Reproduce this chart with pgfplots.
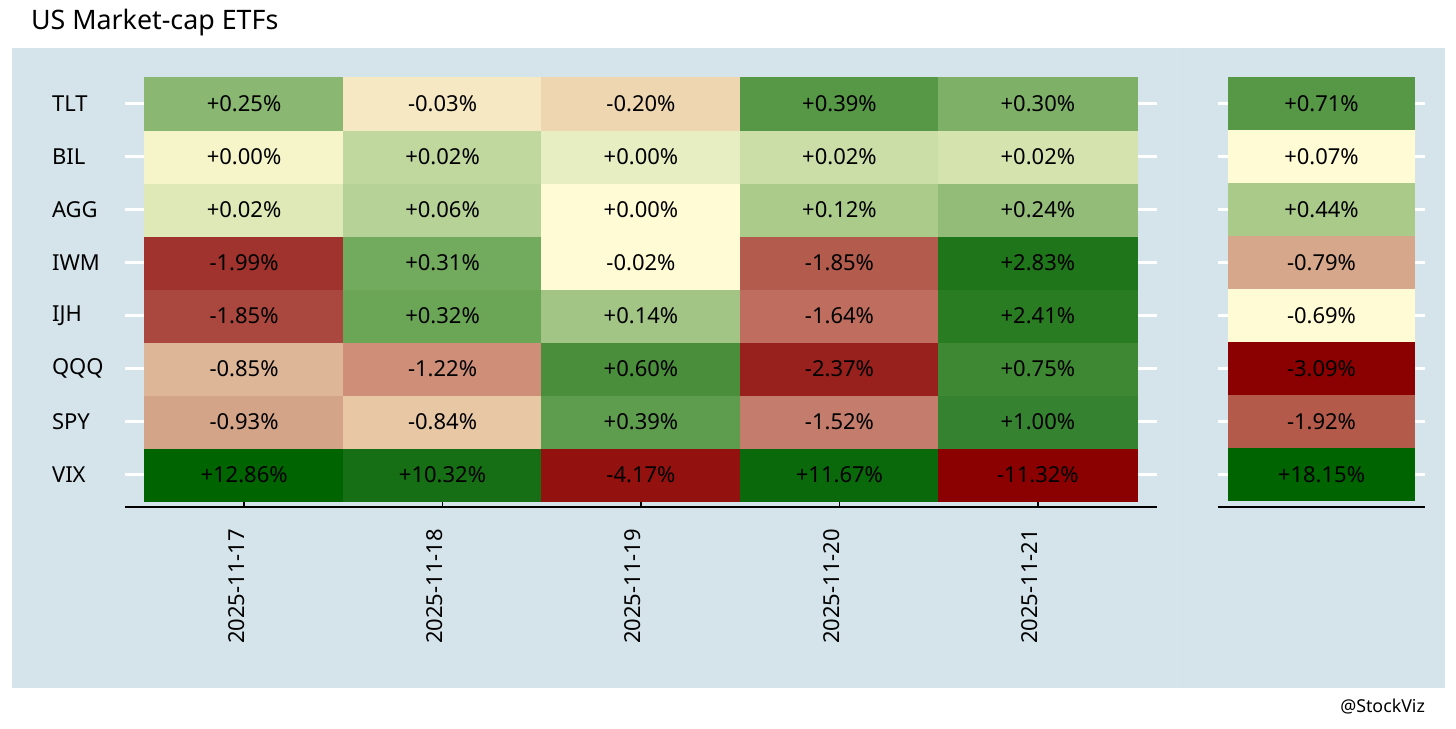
\documentclass[border=0pt]{standalone}
\usepackage{fontspec}
\setmainfont{Noto Sans}
\usepackage{pgfplots}
\pgfplotsset{compat=1.18}
\usepackage{pgfplotstable}

\definecolor{panel}{HTML}{D5E4EB}
\definecolor{seam}{HTML}{D7E5EC}
\definecolor{s0}{HTML}{006400}
\definecolor{s1}{HTML}{B35A4A}
\definecolor{s2}{HTML}{8B0000}
\definecolor{s3}{HTML}{FFFCD5}
\definecolor{s4}{HTML}{D6A78A}
\definecolor{s5}{HTML}{AACA8A}
\definecolor{s6}{HTML}{FFFCD5}
\definecolor{s7}{HTML}{569846}

% daily returns, rows bottom (VIX) to top (TLT)
\pgfplotstableread{
x y c t
0 0 rgb=0,0.392,0 +12.86
1 0 rgb=0.086,0.435,0.078 +10.32
2 0 rgb=0.576,0.071,0.059 -4.17
3 0 rgb=0.039,0.412,0.039 +11.67
4 0 rgb=0.545,0,0 -11.32
0 1 rgb=0.831,0.643,0.537 -0.93
1 1 rgb=0.910,0.780,0.647 -0.84
2 1 rgb=0.369,0.612,0.306 +0.39
3 1 rgb=0.769,0.490,0.424 -1.52
4 1 rgb=0.208,0.514,0.188 +1.00
0 2 rgb=0.867,0.710,0.592 -0.85
1 2 rgb=0.808,0.557,0.471 -1.22
2 2 rgb=0.290,0.557,0.231 +0.60
3 2 rgb=0.596,0.125,0.114 -2.37
4 2 rgb=0.243,0.533,0.200 +0.75
0 3 rgb=0.667,0.278,0.247 -1.85
1 3 rgb=0.420,0.651,0.341 +0.32
2 3 rgb=0.635,0.773,0.525 +0.14
3 3 rgb=0.749,0.427,0.369 -1.64
4 3 rgb=0.165,0.486,0.133 +2.41
0 4 rgb=0.627,0.200,0.176 -1.99
1 4 rgb=0.447,0.667,0.369 +0.31
2 4 rgb=1,0.988,0.835 -0.02
3 4 rgb=0.702,0.357,0.302 -1.85
4 4 rgb=0.122,0.459,0.098 +2.83
0 5 rgb=0.875,0.914,0.718 +0.02
1 5 rgb=0.714,0.824,0.588 +0.06
2 5 rgb=1,0.988,0.835 +0.00
3 5 rgb=0.671,0.796,0.545 +0.12
4 5 rgb=0.576,0.737,0.475 +0.24
0 6 rgb=0.961,0.961,0.788 +0.00
1 6 rgb=0.753,0.843,0.616 +0.02
2 6 rgb=0.906,0.937,0.761 +0.00
3 6 rgb=0.800,0.871,0.659 +0.02
4 6 rgb=0.835,0.890,0.682 +0.02
0 7 rgb=0.541,0.718,0.443 +0.25
1 7 rgb=0.961,0.910,0.761 -0.03
2 7 rgb=0.933,0.839,0.694 -0.20
3 7 rgb=0.337,0.596,0.275 +0.39
4 7 rgb=0.498,0.690,0.408 +0.30
}\cells

\tikzset{cellfont/.style={font=\fontsize{11}{13}\selectfont}}
\pgfplotsset{
  heat/.style={
    scale only axis, height=218pt,
    ymin=-0.6132, ymax=7.6132,
    axis line style={draw=none},
    tick align=inside, ytick pos=both,
    ytick={0,...,7},
    ytick style={draw=white, line width=1.7pt},
    clip=false,
  },
  labels/.style={
    only marks, mark=none, point meta=explicit symbolic,
    nodes near coords={\pgfplotspointmeta\%},
    nodes near coords style={anchor=center, text=black, cellfont},
  },
}

\begin{document}
\begin{tikzpicture}
\useasboundingbox (0,0) rectangle (728pt,-364pt);
\fill[panel] (6pt,-24pt) rectangle (722.5pt,-344pt);
\draw[seam, line width=0.5pt] (588.5pt,-24pt) -- (588.5pt,-344pt);
\node[anchor=west, font=\fontsize{13.4}{16}\selectfont] at (12pt,-11.5pt) {US Market-cap ETFs};
\node[anchor=east, font=\fontsize{8.9}{11}\selectfont] at (716pt,-353.5pt) {@StockViz};

\begin{axis}[heat,
  at={(62.5pt,-253.5pt)}, anchor=south west, width=516pt,
  xmin=-0.6, xmax=4.6,
  major tick length=10pt,
  xtick={0,...,4}, xtick pos=left,
  xticklabels={2025-11-17,2025-11-18,2025-11-19,2025-11-20,2025-11-21},
  xtick style={draw=black, line width=0.7pt},
  xticklabel shift=7.5pt,
  xticklabel style={rotate=90, anchor=base east, cellfont},
  yticklabels={VIX,SPY,QQQ,IJH,IWM,AGG,BIL,TLT},
  yticklabel style={anchor=west, xshift=-40pt, cellfont},
]
\addplot[matrix plot*, mesh/cols=5, mesh/color input=explicit,
  point meta=explicit symbolic] table[meta=c] {\cells};
\addplot[labels] table[meta=t] {\cells};
\draw[black, line width=1pt] (rel axis cs:0,0) -- (rel axis cs:1,0);
\end{axis}

\begin{axis}[heat,
  at={(609pt,-253.5pt)}, anchor=south west, width=103.5pt,
  xmin=-0.5535, xmax=0.5535,
  major tick length=5pt,
  xtick=\empty, yticklabels={,,,,,,,},
]
\addplot[draw=none, fill=s0] coordinates {(-0.5,-0.5) (0.5,-0.5) (0.5,0.5) (-0.5,0.5)};
\addplot[draw=none, fill=s1] coordinates {(-0.5,0.5) (0.5,0.5) (0.5,1.5) (-0.5,1.5)};
\addplot[draw=none, fill=s2] coordinates {(-0.5,1.5) (0.5,1.5) (0.5,2.5) (-0.5,2.5)};
\addplot[draw=none, fill=s3] coordinates {(-0.5,2.5) (0.5,2.5) (0.5,3.5) (-0.5,3.5)};
\addplot[draw=none, fill=s4] coordinates {(-0.5,3.5) (0.5,3.5) (0.5,4.5) (-0.5,4.5)};
\addplot[draw=none, fill=s5] coordinates {(-0.5,4.5) (0.5,4.5) (0.5,5.5) (-0.5,5.5)};
\addplot[draw=none, fill=s6] coordinates {(-0.5,5.5) (0.5,5.5) (0.5,6.5) (-0.5,6.5)};
\addplot[draw=none, fill=s7] coordinates {(-0.5,6.5) (0.5,6.5) (0.5,7.5) (-0.5,7.5)};
\addplot[labels] coordinates {
  (0,0) [+18.15] (0,1) [-1.92] (0,2) [-3.09] (0,3) [-0.69]
  (0,4) [-0.79] (0,5) [+0.44] (0,6) [+0.07] (0,7) [+0.71]
};
\draw[black, line width=1pt] (rel axis cs:0,0) -- (rel axis cs:1,0);
\end{axis}
\end{tikzpicture}
\end{document}
